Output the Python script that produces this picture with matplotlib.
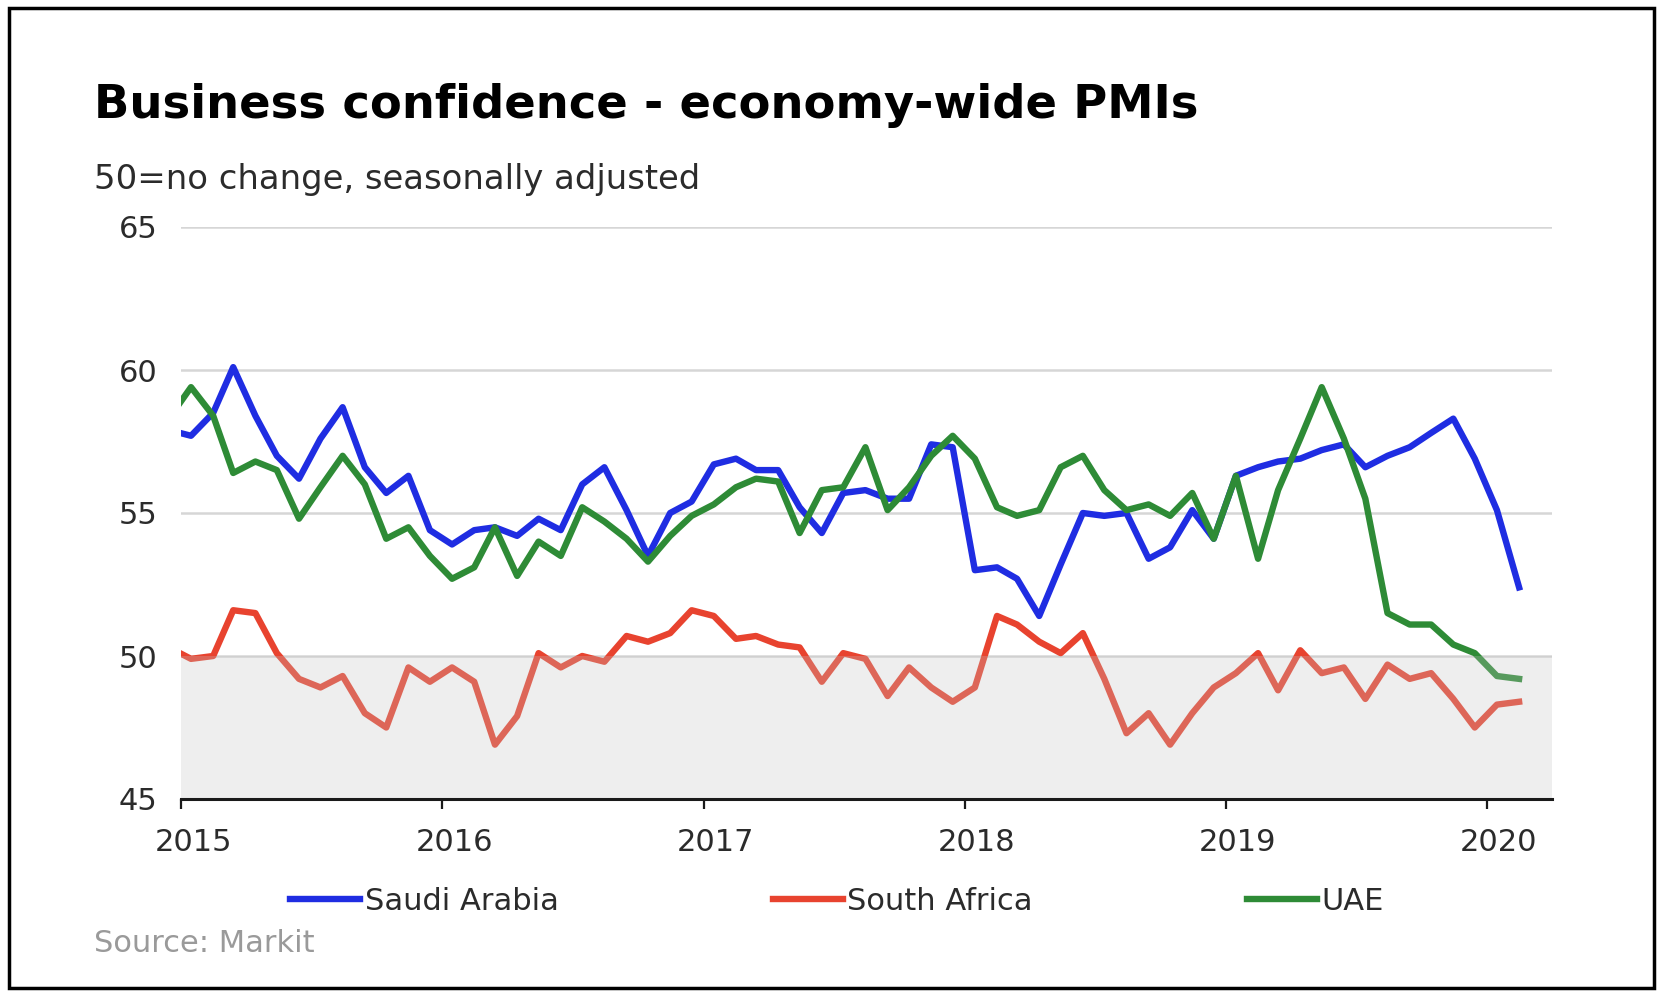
import matplotlib
matplotlib.use('Agg')
import matplotlib.pyplot as plt
import matplotlib.dates as mdates
import matplotlib.patches as patches
from matplotlib.transforms import ScaledTranslation
import pandas as pd

# Monthly PMI readings, Dec 2014 .. Feb 2020 (first point sits left of the axis)
months = pd.date_range('2014-12-01', '2020-02-01', freq='MS') + pd.Timedelta(days=14)

saudi_arabia = [
    57.9,
    57.7, 58.5, 60.1, 58.4, 57.0, 56.2, 57.6, 58.7, 56.6, 55.7, 56.3, 54.4,
    53.9, 54.4, 54.5, 54.2, 54.8, 54.4, 56.0, 56.6, 55.1, 53.5, 55.0, 55.4,
    56.7, 56.9, 56.5, 56.5, 55.2, 54.3, 55.7, 55.8, 55.5, 55.5, 57.4, 57.3,
    53.0, 53.1, 52.7, 51.4, 53.2, 55.0, 54.9, 55.0, 53.4, 53.8, 55.1, 54.1,
    56.3, 56.6, 56.8, 56.9, 57.2, 57.4, 56.6, 57.0, 57.3, 57.8, 58.3, 56.9,
    55.1, 52.4,
]
south_africa = [
    50.3,
    49.9, 50.0, 51.6, 51.5, 50.1, 49.2, 48.9, 49.3, 48.0, 47.5, 49.6, 49.1,
    49.6, 49.1, 46.9, 47.9, 50.1, 49.6, 50.0, 49.8, 50.7, 50.5, 50.8, 51.6,
    51.4, 50.6, 50.7, 50.4, 50.3, 49.1, 50.1, 49.9, 48.6, 49.6, 48.9, 48.4,
    48.9, 51.4, 51.1, 50.5, 50.1, 50.8, 49.2, 47.3, 48.0, 46.9, 48.0, 48.9,
    49.4, 50.1, 48.8, 50.2, 49.4, 49.6, 48.5, 49.7, 49.2, 49.4, 48.5, 47.5,
    48.3, 48.4,
]
uae = [
    58.3,
    59.4, 58.4, 56.4, 56.8, 56.5, 54.8, 55.9, 57.0, 56.0, 54.1, 54.5, 53.5,
    52.7, 53.1, 54.5, 52.8, 54.0, 53.5, 55.2, 54.7, 54.1, 53.3, 54.2, 54.9,
    55.3, 55.9, 56.2, 56.1, 54.3, 55.8, 55.9, 57.3, 55.1, 55.9, 57.0, 57.7,
    56.9, 55.2, 54.9, 55.1, 56.6, 57.0, 55.8, 55.1, 55.3, 54.9, 55.7, 54.1,
    56.3, 53.4, 55.8, 57.6, 59.4, 57.6, 55.5, 51.5, 51.1, 51.1, 50.4, 50.1,
    49.3, 49.2,
]
y_ticks = [45, 50, 55, 60, 65]

# Colours
color_blue = '#1f2de2'
color_red = '#e8432f'
color_green = '#2e8b36'
color_text = '#2b2b2b'

fig = plt.figure(figsize=(16.7, 9.91), dpi=100)
ax = fig.add_axes([181 / 1670, 1 - 799 / 991, (1552 - 181) / 1670, (799 - 227) / 991])

ax.plot(months, saudi_arabia, color=color_blue, linewidth=4.6, label='Saudi Arabia', zorder=2)
ax.plot(months, south_africa, color=color_red, linewidth=4.6, label='South Africa', zorder=2)
ax.plot(months, uae, color=color_green, linewidth=4.6, label='UAE', zorder=2)

# Light band below 50 drawn over the lines, as in the original
ax.axhspan(45, 50, color='#c4c4c4', alpha=0.28, linewidth=0, zorder=3)

ax.set_ylim(45, 65)
ax.set_yticks(y_ticks)
ax.set_xlim(pd.Timestamp('2015-01-01'), pd.Timestamp('2020-04-01'))
ax.xaxis.set_major_locator(mdates.YearLocator())
ax.xaxis.set_major_formatter(mdates.DateFormatter('%Y'))

ax.grid(axis='y', color='#d6d6d6', linewidth=1.8, zorder=1)
ax.set_axisbelow(True)
for side in ['top', 'right', 'left']:
    ax.spines[side].set_visible(False)
ax.spines['bottom'].set_color('#1a1a1a')
ax.spines['bottom'].set_linewidth(2.2)
ax.spines['bottom'].set_zorder(5)

ax.tick_params(axis='y', length=0, pad=17, labelsize=22, labelcolor=color_text)
ax.tick_params(axis='x', length=7, width=1.6, color='#1a1a1a', pad=14,
               labelsize=22, labelcolor=color_text)
for label in ax.get_xticklabels():
    label.set_transform(label.get_transform() + ScaledTranslation(0.12, 0, fig.dpi_scale_trans))

# Titles
fig.text(94 / 1670, 1 - 118 / 991, 'Business confidence - economy-wide PMIs',
         fontsize=33.5, fontweight='bold', color='black', va='baseline')
fig.text(94 / 1670, 1 - 189 / 991, '50=no change, seasonally adjusted',
         fontsize=24.4, color=color_text, va='baseline')

# Legend under the axis
fig.legend(loc='center left', bbox_to_anchor=(290 / 1670, 1 - 901 / 991),
           ncol=3, frameon=False, fontsize=22, handlelength=2.3,
           handletextpad=0.15, columnspacing=7.0, borderpad=0, borderaxespad=0,
           labelcolor=color_text)

fig.text(94 / 1670, 1 - 944 / 991, 'Source: Markit', fontsize=22,
         color='#9a9a9a', va='center')

# Frame around the whole picture
border = patches.Rectangle((9 / 1670, 1 - 988 / 991), (1654 - 9) / 1670, (988 - 8) / 991,
                           transform=fig.transFigure, fill=False,
                           edgecolor='black', linewidth=2.5)
fig.patches.append(border)

fig.savefig('out.png', dpi=100)
plt.close(fig)
